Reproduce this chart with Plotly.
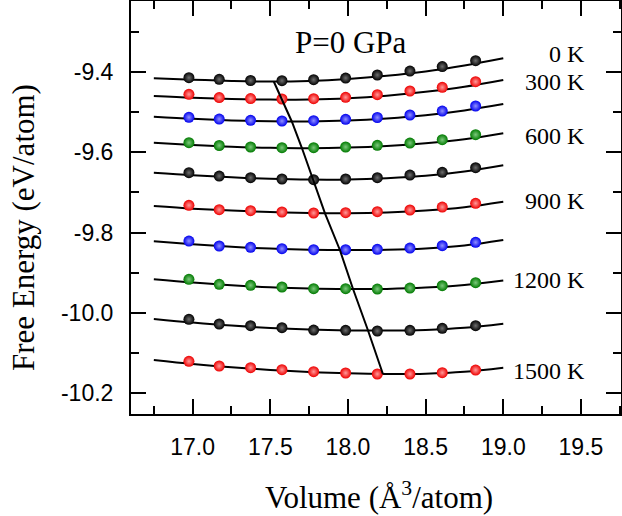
import plotly.graph_objects as go

# ---------------------------------------------------------------------------
# Data
# ---------------------------------------------------------------------------

# volumes of the computed points (A^3/atom)
volumes = [16.976, 17.171, 17.373, 17.575, 17.779, 17.985, 18.189, 18.399, 18.607, 18.822]

# computed free energies (eV/atom), rows from top to bottom
pts_row1 = [-9.4149, -9.4189, -9.4219, -9.4224, -9.4199, -9.4157, -9.4082, -9.3983, -9.3871, -9.3726]
pts_row2 = [-9.4562, -9.4642, -9.4667, -9.4679, -9.4672, -9.4637, -9.4572, -9.4480, -9.4388, -9.4249]
pts_row3 = [-9.5134, -9.5177, -9.5209, -9.5226, -9.5219, -9.5184, -9.5139, -9.5077, -9.4978, -9.4853]
pts_row4 = [-9.5766, -9.5836, -9.5873, -9.5891, -9.5891, -9.5873, -9.5831, -9.5774, -9.5692, -9.5567]
pts_row5 = [-9.6513, -9.6595, -9.6637, -9.6669, -9.6687, -9.6669, -9.6637, -9.6570, -9.6503, -9.6388]
pts_row6 = [-9.7323, -9.7433, -9.7458, -9.7490, -9.7515, -9.7508, -9.7483, -9.7440, -9.7366, -9.7274]
pts_row7 = [-9.8212, -9.8336, -9.8368, -9.8403, -9.8428, -9.8428, -9.8418, -9.8386, -9.8328, -9.8244]
pts_row8 = [-9.9164, -9.9289, -9.9314, -9.9356, -9.9398, -9.9398, -9.9406, -9.9381, -9.9324, -9.9249]
pts_row9 = [-10.0159, -10.0276, -10.0319, -10.0368, -10.0426, -10.0433, -10.0450, -10.0433, -10.0383, -10.0319]
pts_row10 = [-10.1204, -10.1321, -10.1363, -10.1413, -10.1463, -10.1495, -10.1520, -10.1520, -10.1488, -10.1421]

# fitted curves, read at a coarse volume grid
fit_volumes = [16.75, 17.0, 17.25, 17.5, 17.75, 18.0, 18.25, 18.5, 18.75, 19.0]
fit_row1 = [-9.4164, -9.4197, -9.4229, -9.4246, -9.4231, -9.4182, -9.4102, -9.3995, -9.3846, -9.3667]
fit_row2 = [-9.4605, -9.4649, -9.4679, -9.4694, -9.4689, -9.4659, -9.4595, -9.4500, -9.4376, -9.4207]
fit_row3 = [-9.5119, -9.5172, -9.5212, -9.5234, -9.5239, -9.5216, -9.5162, -9.5082, -9.4963, -9.4804]
fit_row4 = [-9.5766, -9.5823, -9.5868, -9.5893, -9.5903, -9.5888, -9.5848, -9.5781, -9.5682, -9.5532]
fit_row5 = [-9.6513, -9.6577, -9.6627, -9.6664, -9.6684, -9.6682, -9.6649, -9.6590, -9.6483, -9.6328]
fit_row6 = [-9.7341, -9.7406, -9.7455, -9.7490, -9.7513, -9.7518, -9.7500, -9.7455, -9.7371, -9.7234]
fit_row7 = [-9.8219, -9.8294, -9.8356, -9.8401, -9.8428, -9.8438, -9.8430, -9.8396, -9.8323, -9.8187]
fit_row8 = [-9.9164, -9.9246, -9.9314, -9.9363, -9.9396, -9.9408, -9.9403, -9.9371, -9.9306, -9.9194]
fit_row9 = [-10.0152, -10.0241, -10.0316, -10.0373, -10.0413, -10.0435, -10.0440, -10.0423, -10.0371, -10.0269]
fit_row10 = [-10.1172, -10.1271, -10.1353, -10.1418, -10.1468, -10.1503, -10.1520, -10.1513, -10.1465, -10.1363]

# locus of the curve minima
min_volumes = [17.523, 17.575, 17.639, 17.704, 17.775, 17.852, 17.948, 18.032, 18.128, 18.225]
min_energies = [-9.4250, -9.4679, -9.5244, -9.5905, -9.6677, -9.7522, -9.8435, -9.9400, -10.0425, -10.1520]

temp_labels = ["0 K", "300 K", "600 K", "900 K", "1200 K", "1500 K"]
pressure_label = "P=0 GPa"

x_tickvals = [17.0, 17.5, 18.0, 18.5, 19.0, 19.5]
x_ticktext = ["17.0", "17.5", "18.0", "18.5", "19.0", "19.5"]
y_tickvals = [-9.4, -9.6, -9.8, -10.0, -10.2]
y_ticktext = ["-9.4", "-9.6", "-9.8", "-10.0", "-10.2"]

# ---------------------------------------------------------------------------
# Styling
# ---------------------------------------------------------------------------

SERIF = "Liberation Serif"
SANS = "Liberation Sans"

# (edge colour, highlight colour) of the shaded balls
BALL = {
    "black": ("#000000", "#6e6e6e"),
    "red": ("#ee0000", "#ff9a9a"),
    "blue": ("#0000ee", "#9090ff"),
    "green": ("#007a00", "#7cc87c"),
}
row_colors = ["black", "red", "blue", "green", "black", "red", "blue", "green", "black", "red"]

pts_rows = [pts_row1, pts_row2, pts_row3, pts_row4, pts_row5,
            pts_row6, pts_row7, pts_row8, pts_row9, pts_row10]
fit_rows = [fit_row1, fit_row2, fit_row3, fit_row4, fit_row5,
            fit_row6, fit_row7, fit_row8, fit_row9, fit_row10]

fig = go.Figure()

# fitted curves first so the balls sit on top
for fit in fit_rows:
    fig.add_trace(go.Scatter(
        x=fit_volumes, y=fit, mode="lines",
        line=dict(color="black", width=2, shape="spline", smoothing=1.0),
        hoverinfo="skip",
    ))

for pts, cname in zip(pts_rows, row_colors):
    edge, light = BALL[cname]
    fig.add_trace(go.Scatter(
        x=volumes, y=pts, mode="markers",
        marker=dict(size=11, color=edge, line=dict(width=0),
                    gradient=dict(type="radial", color=light)),
    ))

fig.add_trace(go.Scatter(
    x=min_volumes, y=min_energies, mode="lines",
    line=dict(color="black", width=2),
))

# labels
label_y = [0.8717, 0.8031, 0.6731, 0.5157, 0.3245, 0.1053]
annotations = [
    dict(text=t, x=0.9306, y=yy, xref="paper", yref="paper",
         xanchor="right", yanchor="middle", showarrow=False,
         font=dict(family=SERIF, size=24, color="black"))
    for t, yy in zip(temp_labels, label_y)
]
annotations.append(dict(
    text=pressure_label, x=(293 - 131) / 490, y=(414 - 42.5) / 413,
    xref="paper", yref="paper", xanchor="left", yanchor="middle",
    showarrow=False, font=dict(family=SERIF, size=31, color="black"),
))
# axis titles
annotations.append(dict(
    text="Volume (Å<sup>3</sup>/atom)", x=(379 - 131) / 490, y=(414 - 495) / 413,
    xref="paper", yref="paper", xanchor="center", yanchor="middle",
    showarrow=False, font=dict(family=SERIF, size=31, color="black"),
))
annotations.append(dict(
    text="Free Energy (eV/atom)", x=(24 - 131) / 490, y=(414 - 228) / 413,
    xref="paper", yref="paper", xanchor="center", yanchor="middle",
    textangle=-90, showarrow=False,
    font=dict(family=SERIF, size=31, color="black"),
))

fig.update_layout(
    width=622, height=516,
    margin=dict(l=131, r=1, t=1, b=102, autoexpand=False),
    paper_bgcolor="white", plot_bgcolor="white",
    showlegend=False,
    annotations=annotations,
)

axis_common = dict(
    automargin=False,
    ticks="inside", ticklen=15, tickwidth=2, tickcolor="black",
    showline=True, linewidth=2, linecolor="black", mirror="ticks",
    showgrid=False, zeroline=False,
    tickfont=dict(family=SANS, size=23, color="black"),
)
fig.update_xaxes(
    range=[16.603, 19.758], tickmode="array",
    tickvals=x_tickvals, ticktext=x_ticktext,
    minor=dict(tickmode="linear", tick0=17.0, dtick=0.25,
               ticks="inside", ticklen=8, tickwidth=2, tickcolor="black"),
    ticklabelstandoff=11,
    **axis_common,
)
fig.update_yaxes(
    range=[-10.2515, -9.2241], tickmode="array",
    tickvals=y_tickvals, ticktext=y_ticktext,
    minor=dict(tickmode="linear", tick0=-9.4, dtick=0.1,
               ticks="inside", ticklen=8, tickwidth=2, tickcolor="black"),
    ticklabelstandoff=11,
    **axis_common,
)

# the page's default body margin would shift the figure by 8 px
fig.write_html("out.html", config={"displayModeBar": False},
               post_script="document.body.style.margin = '0';")
